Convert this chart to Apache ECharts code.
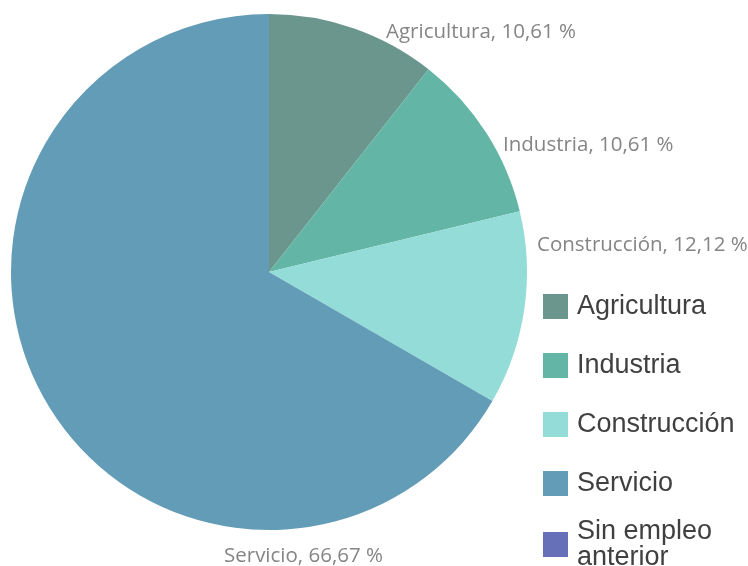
<!DOCTYPE html>
<html>
<head>
<meta charset="utf-8">
<script src="https://cdn.jsdelivr.net/npm/echarts@6/dist/echarts.min.js"></script>
<style>
  html, body { margin: 0; padding: 0; background: #fff; }
  #chart { width: 748px; height: 566px; }
</style>
</head>
<body>
<div id="chart"></div>
<script>
const categories = ["Agricultura", "Industria", "Construcción", "Servicio", "Sin empleo anterior"];
const shares = [10.61, 10.61, 12.12, 66.67, 0];
const colors = ["#6a968e", "#63b6a5", "#93dcd8", "#639cb6", "#6670b8"];

// where Excel put each data label (left edge, middle)
const labelSpots = [[386, 32], [503, 145], [537, 245], [224, 556], [0, 0]];

const chart = echarts.init(document.getElementById("chart"));

const pieData = categories.map((name, i) => ({
  name: name,
  value: shares[i],
  itemStyle: { color: colors[i] },
  label: { show: shares[i] > 0 }
}));

const legendText = {
  fontFamily: "Liberation Sans, Arial, sans-serif",
  fontSize: 27,
  lineHeight: 26,
  color: "#404040",
  padding: [0, 0, 0, 4]
};

const legendBase = {
  orient: "vertical",
  left: 543,
  height: 300,
  padding: 0,
  itemWidth: 25,
  itemHeight: 25,
  icon: "rect",
  textStyle: legendText
};

chart.setOption({
  animation: false,
  legend: [
    Object.assign({}, legendBase, {
      top: 293,
      itemGap: 32,
      data: categories.slice(0, 4)
    }),
    // last entry wraps to two lines, so it sits in its own box
    Object.assign({}, legendBase, {
      top: 518,
      data: categories.slice(4),
      formatter: () => "Sin empleo\nanterior"
    })
  ],
  series: [
    {
      type: "pie",
      center: [269, 272],
      radius: 258,
      startAngle: 90,
      clockwise: true,
      avoidLabelOverlap: false,
      data: pieData,
      label: {
        position: "outside",
        fontFamily: "Open Sans, sans-serif",
        fontSize: 20.5,
        color: "#858585",
        formatter: p => p.name + ", " + p.value.toFixed(2).replace(".", ",") + " %"
      },
      labelLine: { show: false },
      labelLayout: p => ({
        x: labelSpots[p.dataIndex][0],
        y: labelSpots[p.dataIndex][1],
        align: "left",
        verticalAlign: "middle"
      }),
      emphasis: { disabled: true }
    }
  ]
});
</script>
</body>
</html>
